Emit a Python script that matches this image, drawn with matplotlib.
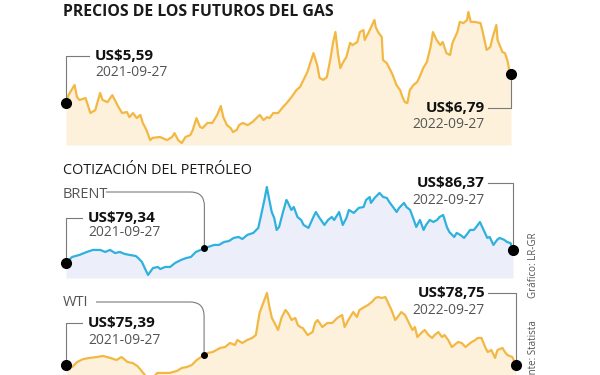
import numpy as np
import matplotlib.pyplot as plt
from matplotlib.path import Path
from matplotlib.patches import PathPatch

plt.rcParams["font.family"] = ["Open Sans", "DejaVu Sans"]

# Gas futures (US$), days since 2021-09-27
gas_days = [0, 2, 7, 9, 11, 16, 20, 24, 28, 30, 34, 38, 40, 43, 46, 50, 52, 55, 58, 61,
            63, 66, 69, 71, 77, 83, 87, 89, 92, 95, 98, 102, 104, 107, 110, 112, 116, 120, 124, 127,
            129, 132, 135, 137, 140, 142, 145, 149, 153, 157, 159, 162, 165, 167, 170, 174, 178, 181, 185, 189,
            192, 196, 198, 203, 206, 208, 211, 214, 217, 219, 221, 223, 225, 227, 230, 233, 235, 239, 241, 244,
            245, 248, 251, 253, 254, 256, 259, 260, 263, 266, 268, 271, 274, 276, 278, 280, 282, 285, 288, 290,
            293, 296, 299, 301, 304, 307, 309, 312, 315, 317, 321, 323, 326, 329, 330, 332, 335, 340, 342, 345,
            348, 350, 353, 354, 358, 360, 362, 364, 365]
gas_price = [5.59, 5.92, 6.34, 5.84, 5.72, 5.80, 5.18, 5.30, 6.01, 5.72, 5.63, 5.92, 5.72, 5.43, 5.18, 5.22, 5.01, 5.18, 4.97, 5.10,
             4.77, 4.48, 4.06, 4.15, 4.19, 4.06, 4.19, 4.35, 4.06, 3.94, 4.19, 4.27, 4.48, 4.97, 4.60, 4.56, 4.77, 4.77, 5.10, 5.47,
             5.01, 4.68, 4.56, 4.39, 4.48, 4.68, 4.77, 4.68, 4.81, 5.01, 5.10, 4.89, 5.01, 4.97, 5.18, 5.18, 5.43, 5.59, 5.84, 6.13,
             6.26, 6.67, 6.88, 7.66, 7.17, 6.63, 6.55, 6.67, 7.46, 8.08, 8.53, 7.66, 7.04, 7.25, 7.50, 8.08, 7.99, 8.12, 8.53, 8.61,
             8.20, 8.49, 8.82, 9.03, 8.74, 8.53, 8.32, 7.37, 7.25, 6.96, 6.75, 6.34, 6.13, 5.84, 5.63, 5.59, 6.13, 6.34, 6.46, 6.67,
             7.04, 7.29, 7.91, 8.53, 8.20, 7.99, 8.12, 7.66, 7.58, 8.08, 8.53, 8.95, 8.90, 9.03, 9.36, 8.95, 8.95, 8.90, 8.49, 7.79,
             7.91, 8.32, 8.82, 8.20, 7.70, 7.66, 7.37, 6.84, 6.79]

# Brent (US$ per barrel)
brent_days = [0, 5, 11, 17, 22, 28, 32, 36, 40, 44, 48, 52, 57, 59, 62, 65, 67, 71, 75, 77,
              81, 85, 89, 94, 98, 102, 106, 110, 113, 116, 121, 125, 129, 133, 137, 141, 144, 148, 153, 157,
              159, 162, 164, 166, 168, 170, 172, 174, 177, 180, 181, 184, 186, 189, 192, 194, 198, 202, 204, 207,
              211, 214, 217, 219, 223, 226, 229, 231, 235, 239, 243, 245, 248, 249, 252, 256, 259, 262, 264, 267,
              270, 272, 276, 278, 281, 284, 286, 289, 292, 294, 297, 300, 303, 305, 308, 311, 313, 317, 319, 322,
              325, 327, 330, 333, 335, 338, 341, 344, 346, 349, 352, 354, 358, 360, 363, 365]
brent_price = [79.34, 82.6, 83.7, 85.3, 86.4, 86.4, 85.3, 86.4, 84.7, 85.3, 84.2, 83.7, 83.1, 82.0, 79.9, 75.6, 72.9, 76.6, 77.2, 76.1,
               77.2, 77.2, 79.3, 81.0, 82.0, 82.6, 85.3, 86.4, 87.5, 88.0, 89.1, 89.1, 90.7, 91.2, 92.9, 93.4, 92.3, 94.5, 95.6, 98.3,
               104.2, 113.4, 120.4, 113.4, 106.9, 103.7, 97.2, 98.8, 106.4, 113.4, 112.3, 108.0, 109.6, 104.2, 102.6, 99.9, 98.3, 104.2, 106.9, 103.7,
               99.9, 102.6, 104.2, 102.6, 106.9, 99.9, 103.7, 108.0, 106.4, 109.1, 109.6, 113.4, 115.0, 111.8, 114.5, 117.2, 115.0, 114.5, 112.3, 109.6,
               106.9, 109.1, 111.8, 109.6, 108.0, 102.6, 98.8, 102.6, 97.2, 99.9, 102.6, 101.5, 102.6, 104.2, 105.3, 98.8, 96.1, 93.4, 95.6, 94.5,
               92.9, 94.5, 97.2, 97.2, 98.8, 101.5, 97.2, 92.9, 93.4, 89.1, 91.8, 92.9, 91.8, 90.7, 90.1, 86.37]

# WTI (US$ per barrel)
wti_days = [0, 5, 9, 14, 19, 25, 30, 36, 41, 45, 50, 54, 58, 62, 66, 70, 74, 79, 84, 90,
            94, 98, 102, 106, 112, 115, 119, 125, 129, 133, 137, 139, 143, 147, 151, 154, 157, 160, 163, 165,
            167, 170, 172, 175, 178, 180, 183, 186, 188, 190, 192, 196, 200, 202, 204, 208, 212, 216, 220, 224,
            226, 229, 233, 236, 238, 242, 245, 248, 251, 253, 256, 259, 261, 264, 267, 269, 272, 275, 277, 281,
            283, 285, 289, 291, 294, 297, 299, 302, 305, 307, 310, 313, 315, 318, 321, 324, 326, 329, 332, 334,
            337, 340, 342, 345, 348, 350, 354, 356, 358, 362, 365]
wti_price = [75.4, 74.3, 77.0, 78.6, 79.2, 79.7, 80.3, 79.2, 78.1, 79.7, 77.0, 76.5, 74.8, 71.6, 68.4, 67.8, 71.1, 71.1, 71.1, 72.2,
             73.8, 74.3, 75.4, 78.1, 80.8, 81.9, 82.4, 84.6, 85.1, 87.3, 86.2, 88.9, 87.3, 88.9, 90.0, 91.6, 103.5, 108.9, 114.3, 106.7,
             100.8, 97.0, 94.3, 101.3, 105.1, 103.5, 99.7, 100.8, 97.0, 95.9, 95.4, 91.6, 93.2, 98.1, 99.7, 95.9, 98.1, 98.1, 100.8, 102.4,
             95.9, 99.7, 104.0, 101.3, 105.1, 106.7, 107.8, 109.4, 111.6, 112.1, 111.6, 112.1, 109.4, 105.1, 99.7, 101.3, 104.0, 102.4, 99.7, 94.3,
             95.9, 90.5, 93.2, 94.3, 91.6, 90.0, 91.6, 93.2, 90.5, 91.6, 88.9, 85.1, 86.2, 87.8, 87.3, 85.1, 86.2, 87.8, 88.9, 90.0,
             90.0, 85.1, 82.4, 83.5, 79.2, 83.5, 84.6, 82.4, 80.8, 79.7, 75.4]

gas_labels = ("US$5,59", "2021-09-27", "US$6,79", "2022-09-27")
brent_labels = ("US$79,34", "2021-09-27", "US$86,37", "2022-09-27")
wti_labels = ("US$75,39", "2021-09-27", "US$78,75", "2022-09-27")

GOLD, GOLD_FILL = "#f3b843", "#fdf1db"
BLUE, BLUE_FILL = "#2fb1de", "#eceffa"
GREY_LINE = "#7a7a7a"
GREY_TXT = "#555555"

W, H = 600, 375
fig = plt.figure(figsize=(6, 3.75), dpi=100)

overlay = fig.add_axes([0, 0, 1, 1], zorder=5)
overlay.set_xlim(0, W)
overlay.set_ylim(H, 0)
overlay.axis("off")
overlay.patch.set_alpha(0)


def panel(left, right, top, bottom, ylo, yhi, days, prices, line_c, fill_c):
    ax = fig.add_axes([left / W, 1 - bottom / H, (right - left) / W, (bottom - top) / H])
    ax.set_xlim(0, 365)
    ax.set_ylim(ylo, yhi)
    ax.fill_between(days, prices, ylo, color=fill_c, lw=0)
    ax.plot(days, prices, color=line_c, lw=1.6, solid_joinstyle="round")
    ax.axis("off")
    return ax


def to_px(ax, x, y):
    d = ax.transData.transform((x, y))
    return overlay.transData.inverted().transform(d)


def dot(ax, x, y, size):
    px, py = to_px(ax, x, y)
    overlay.plot(px, py, "o", color="black", ms=size, zorder=6)
    return px, py


def elbow(points, radius=0):
    if radius == 0:
        overlay.plot(*zip(*points), color=GREY_LINE, lw=0.8)
        return
    (x0, y0), (x1, y1) = points
    verts = [(x0, y0), (x1 - radius, y0), (x1, y0), (x1, y0 + radius), (x1, y1)]
    codes = [Path.MOVETO, Path.LINETO, Path.CURVE3, Path.CURVE3, Path.LINETO]
    overlay.add_patch(PathPatch(Path(verts, codes), fc="none", ec=GREY_LINE, lw=0.8))


def end_labels(ax, days, prices, labels, y_val, y_date, x_left=88):
    sx, sy = dot(ax, days[0], prices[0], 7)
    ex, ey = dot(ax, days[-1], prices[-1], 7)
    elbow([(sx, sy), (sx, y_val[0]), (x_left - 6, y_val[0])])
    elbow([(ex, ey), (ex, y_val[1]), (488, y_val[1])])
    overlay.text(x_left, y_val[0], labels[0], fontsize=11, fontweight="bold", color="#111111", va="center", ha="left")
    overlay.text(x_left, y_date[0], labels[1], fontsize=10, color=GREY_TXT, va="center", ha="left")
    overlay.text(485, y_val[1], labels[2], fontsize=11, fontweight="bold", color="#111111", va="center", ha="right")
    overlay.text(485, y_date[1], labels[3], fontsize=10, color=GREY_TXT, va="center", ha="right")


# Gas panel
ax_gas = panel(66, 511, 0, 145, 3.857, 9.855, gas_days, gas_price, GOLD, GOLD_FILL)
overlay.text(63, 12, "PRECIOS DE LOS FUTUROS DEL GAS", fontsize=11.4, fontweight="bold",
             color="#1a1a1a", va="center", ha="left")
end_labels(ax_gas, gas_days, gas_price, gas_labels, (56, 108), (73, 125), x_left=95)

# Brent panel
ax_brent = panel(66, 513, 160, 278, 71.23, 135.0, brent_days, brent_price, BLUE, BLUE_FILL)
overlay.text(63, 171, "COTIZACIÓN DEL PETRÓLEO", fontsize=10.4, color="#1a1a1a", va="center", ha="left")
overlay.text(63, 195, "BRENT", fontsize=10.5, color=GREY_TXT, va="center", ha="left")
end_labels(ax_brent, brent_days, brent_price, brent_labels, (218, 183), (232, 200))
bx, by = dot(ax_brent, brent_days[28], brent_price[28], 4)
elbow([(106, 192), (bx, by)], radius=14)

# WTI panel
ax_wti = panel(66, 516, 285, 375, 70.0, 118.6, wti_days, wti_price, GOLD, GOLD_FILL)
overlay.text(63, 303, "WTI", fontsize=10.5, color=GREY_TXT, va="center", ha="left")
end_labels(ax_wti, wti_days, wti_price, wti_labels, (323, 293), (340, 310))
wx, wy = dot(ax_wti, wti_days[24], wti_price[24], 4)
elbow([(96, 302), (wx, wy)], radius=14)

# Credits
overlay.text(533, 265, "Gráfico: LR-GR", fontsize=7, color=GREY_TXT, rotation=90, va="center", ha="center")
overlay.text(533, 356, "Fuente: Statista", fontsize=7, color=GREY_TXT, rotation=90, va="center", ha="center")

fig.savefig("out.png", dpi=100, facecolor="white")
